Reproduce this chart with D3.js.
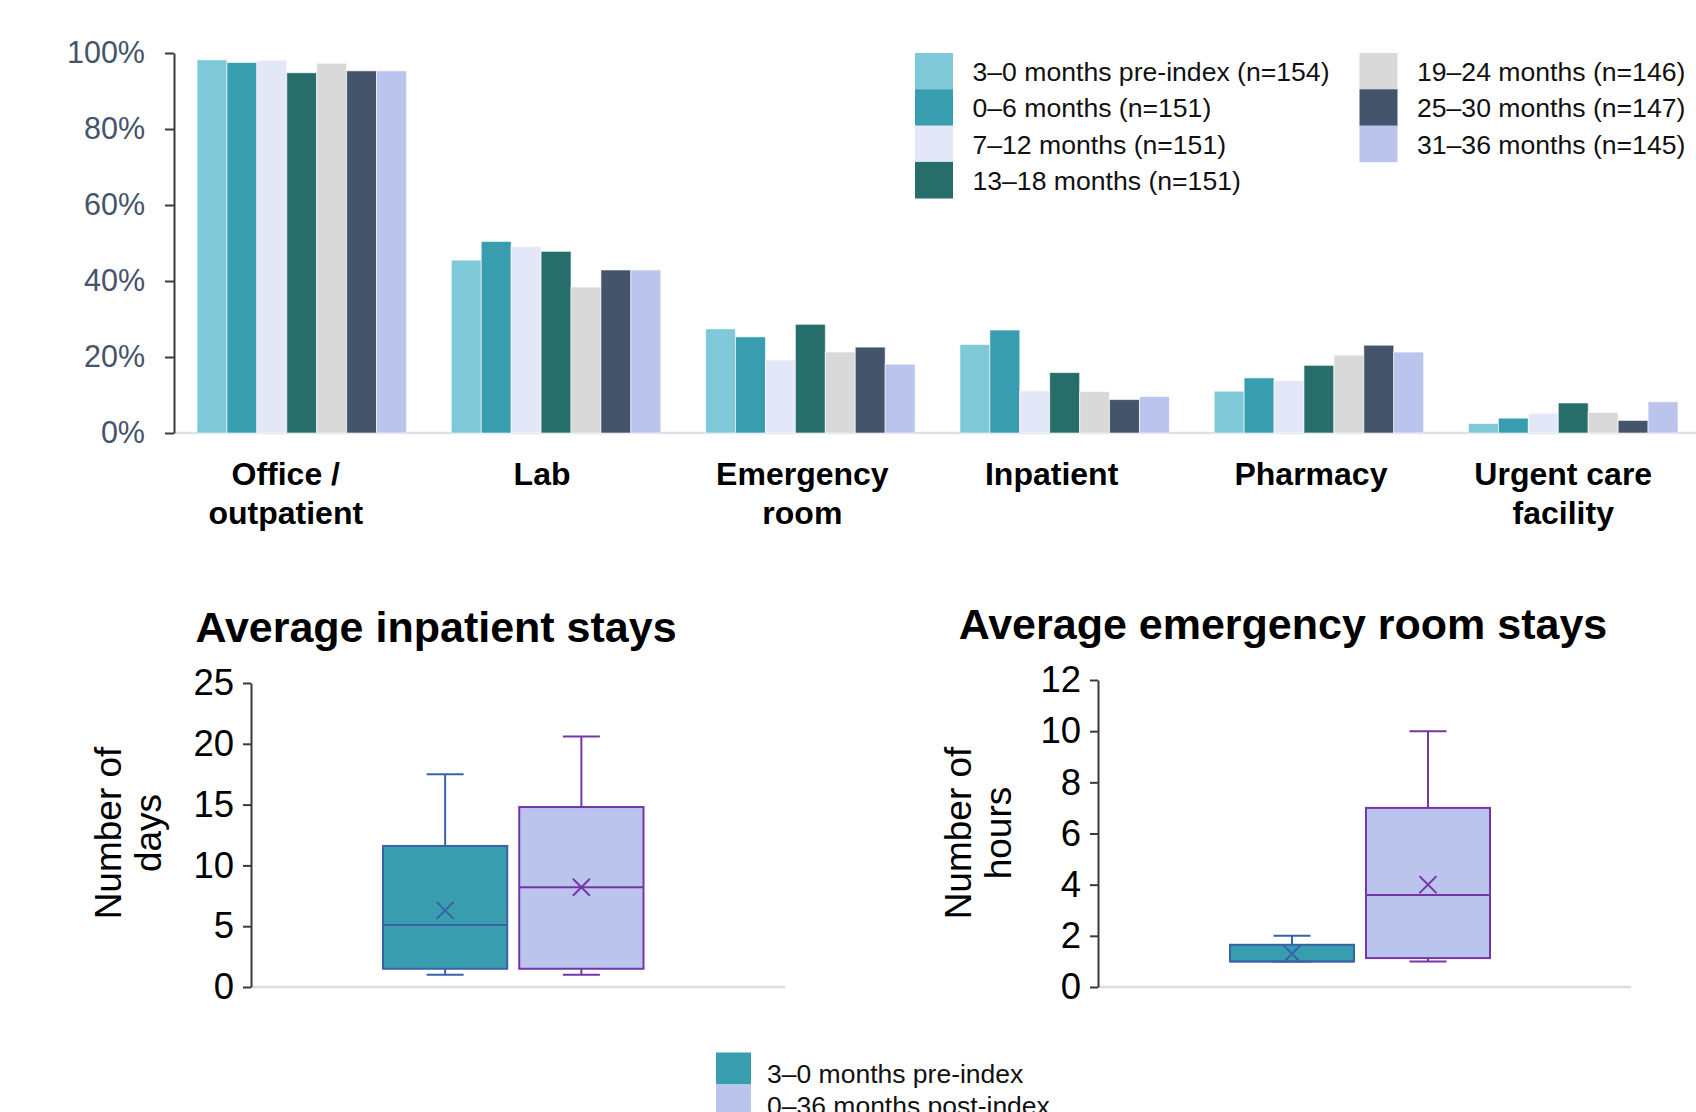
<!DOCTYPE html>
<html>
<head>
<meta charset="utf-8">
<script src="https://cdn.jsdelivr.net/npm/d3@7"></script>
<style>
  body { margin: 0; background: #fff; }
  svg { display: block; font-family: "Liberation Sans", Arial, Helvetica, sans-serif; }
</style>
</head>
<body>
<svg id="chart" width="1696" height="1112"></svg>
<script>
// ---------- DATA ----------
const categories = ["Office /\noutpatient", "Lab", "Emergency\nroom", "Inpatient", "Pharmacy", "Urgent care\nfacility"];
const seriesNames = [
  "3–0 months pre-index (n=154)",
  "0–6 months (n=151)",
  "7–12 months (n=151)",
  "13–18 months (n=151)",
  "19–24 months (n=146)",
  "25–30 months (n=147)",
  "31–36 months (n=145)"
];
const seriesColors = ["#7ec8d8", "#379daf", "#e4e7f7", "#276e6b", "#d9d9d9", "#44546a", "#bbc4ed"];
// percent of patients per category, one array per series
const pre3to0   = [98.2, 45.5, 27.4, 23.3, 11.0, 2.5];
const m0to6     = [97.5, 50.4, 25.3, 27.1, 14.5, 3.9];
const m7to12    = [98.1, 49.1, 19.2, 11.1, 13.8, 5.2];
const m13to18   = [94.8, 47.8, 28.6, 15.9, 17.8, 7.9];
const m19to24   = [97.3, 38.4, 21.3, 10.9, 20.5, 5.4];
const m25to30   = [95.3, 42.9, 22.6, 8.8, 23.1, 3.3];
const m31to36   = [95.3, 42.9, 18.1, 9.6, 21.3, 8.2];
const seriesValues = [pre3to0, m0to6, m7to12, m13to18, m19to24, m25to30, m31to36];
const pctTicks = [0, 20, 40, 60, 80, 100];

// box plots
const boxGroups = ["3–0 months pre-index", "0–36 months post-index"];
const boxColors = ["#379daf", "#bbc4ed"];
const boxStrokes = ["#3a62a6", "#7436a6"];
// inpatient stays (days)
const inpMin    = [1.0, 1.0];
const inpQ1     = [1.5, 1.5];
const inpMedian = [5.1, 8.2];
const inpQ3     = [11.6, 14.8];
const inpMax    = [17.5, 20.6];
const inpMean   = [6.3, 8.2];
const inpTicks  = [0, 5, 10, 15, 20, 25];
// emergency room stays (hours)
const erMin    = [1.0, 1.0];
const erQ1     = [1.0, 1.13];
const erMedian = [1.0, 3.6];
const erQ3     = [1.65, 7.0];
const erMax    = [2.0, 10.0];
const erMean   = [1.3, 4.0];
const erTicks  = [0, 2, 4, 6, 8, 10, 12];

// ---------- DRAW ----------
const svg = d3.select("#chart");

// ===== Top grouped bar chart =====
const yTop = d3.scaleLinear().domain([0, 100]).range([433, 53]);
const x0 = d3.scaleBand().domain(categories).range([174, 1701]).paddingInner(0.1762).paddingOuter(0.0905);
const x1 = d3.scaleBand().domain(seriesNames).range([0, x0.bandwidth()]);

// baseline
svg.append("line")
  .attr("x1", 174).attr("x2", 1696)
  .attr("y1", yTop(0)).attr("y2", yTop(0))
  .attr("stroke", "#dde1e7").attr("stroke-width", 2.5);

const groups = svg.append("g").selectAll("g")
  .data(categories).join("g")
  .attr("transform", d => `translate(${x0(d)},0)`);

groups.selectAll("rect")
  .data((c, ci) => seriesNames.map((s, si) => ({ s, si, v: seriesValues[si][ci] })))
  .join("rect")
  .attr("x", d => x1(d.s))
  .attr("width", x1.bandwidth())
  .attr("y", d => yTop(d.v))
  .attr("height", d => yTop(0) - yTop(d.v))
  .attr("fill", d => seriesColors[d.si])
  .attr("stroke", "#ffffff").attr("stroke-opacity", 0.6).attr("stroke-width", 1);

// y axis
const yAxisTop = svg.append("g")
  .attr("transform", "translate(174,0)")
  .call(d3.axisLeft(yTop).tickValues(pctTicks).tickFormat(d => d + "%").tickSize(9).tickSizeOuter(0).tickPadding(20));
yAxisTop.select(".domain").attr("stroke", "#3a3a3a").attr("stroke-width", 2);
yAxisTop.selectAll(".tick line").attr("stroke", "#3a3a3a").attr("stroke-width", 2);
yAxisTop.selectAll(".tick text").attr("font-size", 30.5).attr("fill", "#44546a")
  .attr("font-family", "'Liberation Sans', Arial, sans-serif");

// category labels
const catShift = [-16, -14, -8, -13, -8, -10];
const catLabels = svg.append("g");
categories.forEach((c, ci) => {
  const lines = c.split("\n");
  const t = catLabels.append("text")
    .attr("text-anchor", "middle")
    .attr("font-size", 32).attr("font-weight", "bold").attr("fill", "#000");
  lines.forEach((ln, i) => {
    t.append("tspan")
      .attr("x", x0(c) + x0.bandwidth() / 2 + catShift[ci])
      .attr("y", 485 + i * 38.5)
      .text(ln);
  });
});

// legend (top)
const legendCols = [{ x: 915, items: [0, 1, 2, 3] }, { x: 1359.5, items: [4, 5, 6] }];
const legend = svg.append("g");
legendCols.forEach(col => {
  col.items.forEach((si, r) => {
    const top = 53 + r * 36.3;
    legend.append("rect")
      .attr("x", col.x).attr("y", top)
      .attr("width", 38).attr("height", 36.6)
      .attr("fill", seriesColors[si]);
    legend.append("text")
      .attr("x", col.x + 57.5).attr("y", top + 28)
      .attr("font-size", 26.6).attr("fill", "#111")
      .text(seriesNames[si]);
  });
});

// ===== Box plots =====
function drawBox(cfg) {
  const g = svg.append("g");
  const y = d3.scaleLinear().domain([0, cfg.ticks[cfg.ticks.length - 1]]).range([987, cfg.topY]);
  const x = d3.scaleBand().domain(boxGroups).range(cfg.boxRange).paddingInner(0.088);

  // baseline
  g.append("line")
    .attr("x1", cfg.axisX).attr("x2", cfg.baseEnd)
    .attr("y1", y(0)).attr("y2", y(0))
    .attr("stroke", "#dcdcdc").attr("stroke-width", 2.5);

  // axis
  const ax = g.append("g")
    .attr("transform", `translate(${cfg.axisX},0)`)
    .call(d3.axisLeft(y).tickValues(cfg.ticks).tickSize(8).tickSizeOuter(0).tickPadding(9));
  ax.select(".domain").attr("stroke", "#3a3a3a").attr("stroke-width", 2);
  ax.selectAll(".tick line").attr("stroke", "#3a3a3a").attr("stroke-width", 2);
  ax.selectAll(".tick text").attr("font-size", 36.5).attr("fill", "#000")
    .attr("font-family", "'Liberation Sans', Arial, sans-serif");

  // title
  g.append("text")
    .attr("x", cfg.titleX).attr("y", cfg.titleY)
    .attr("text-anchor", "middle")
    .attr("font-size", 43).attr("font-weight", "bold").attr("fill", "#000")
    .text(cfg.title);

  // y-axis title (two lines, rotated)
  const yt = g.append("text")
    .attr("transform", `translate(${cfg.yTitleX},833) rotate(-90)`)
    .attr("text-anchor", "middle")
    .attr("font-size", 37).attr("fill", "#000");
  cfg.yTitle.forEach((ln, i) => {
    yt.append("tspan").attr("x", 0).attr("y", i * 40).text(ln);
  });

  // boxes
  boxGroups.forEach((grp, i) => {
    const bx = x(grp), bw = x.bandwidth(), cx = bx + bw / 2;
    const stroke = boxStrokes[i];
    const capW = 37;
    // whiskers
    g.append("line").attr("x1", cx).attr("x2", cx)
      .attr("y1", y(cfg.q3[i])).attr("y2", y(cfg.max[i]))
      .attr("stroke", stroke).attr("stroke-width", 2);
    g.append("line").attr("x1", cx).attr("x2", cx)
      .attr("y1", y(cfg.q1[i])).attr("y2", y(cfg.min[i]))
      .attr("stroke", stroke).attr("stroke-width", 2);
    g.append("line").attr("x1", cx - capW / 2).attr("x2", cx + capW / 2)
      .attr("y1", y(cfg.max[i])).attr("y2", y(cfg.max[i]))
      .attr("stroke", stroke).attr("stroke-width", 2);
    g.append("line").attr("x1", cx - capW / 2).attr("x2", cx + capW / 2)
      .attr("y1", y(cfg.min[i])).attr("y2", y(cfg.min[i]))
      .attr("stroke", stroke).attr("stroke-width", 2);
    // box
    g.append("rect")
      .attr("x", bx).attr("width", bw)
      .attr("y", y(cfg.q3[i])).attr("height", y(cfg.q1[i]) - y(cfg.q3[i]))
      .attr("fill", boxColors[i]).attr("stroke", stroke).attr("stroke-width", 2);
    // median
    g.append("line").attr("x1", bx).attr("x2", bx + bw)
      .attr("y1", y(cfg.median[i])).attr("y2", y(cfg.median[i]))
      .attr("stroke", stroke).attr("stroke-width", 2);
    // mean marker (x)
    const my = y(cfg.mean[i]), s = 8.5;
    g.append("path")
      .attr("d", `M${cx - s},${my - s}L${cx + s},${my + s}M${cx - s},${my + s}L${cx + s},${my - s}`)
      .attr("stroke", stroke).attr("stroke-width", 2).attr("fill", "none");
  });
}

drawBox({
  title: "Average inpatient stays", titleX: 436, titleY: 642,
  yTitle: ["Number of", "days"], yTitleX: 121,
  axisX: 251, baseEnd: 785, topY: 683, boxRange: [383, 643.5],
  ticks: inpTicks, min: inpMin, q1: inpQ1, median: inpMedian, q3: inpQ3, max: inpMax, mean: inpMean
});
drawBox({
  title: "Average emergency room stays", titleX: 1283, titleY: 639,
  yTitle: ["Number of", "hours"], yTitleX: 971,
  axisX: 1098, baseEnd: 1631, topY: 680, boxRange: [1230, 1490],
  ticks: erTicks, min: erMin, q1: erQ1, median: erMedian, q3: erQ3, max: erMax, mean: erMean
});

// bottom legend (cut by the bottom edge, as in the source)
const bl = svg.append("g");
boxGroups.forEach((grp, i) => {
  const top = 1052.5 + i * 32;
  bl.append("rect").attr("x", 716).attr("y", top).attr("width", 35).attr("height", 32)
    .attr("fill", boxColors[i]);
  bl.append("text").attr("x", 767).attr("y", top + 30.5)
    .attr("font-size", 26.5).attr("fill", "#111").text(grp);
});
</script>
</body>
</html>
